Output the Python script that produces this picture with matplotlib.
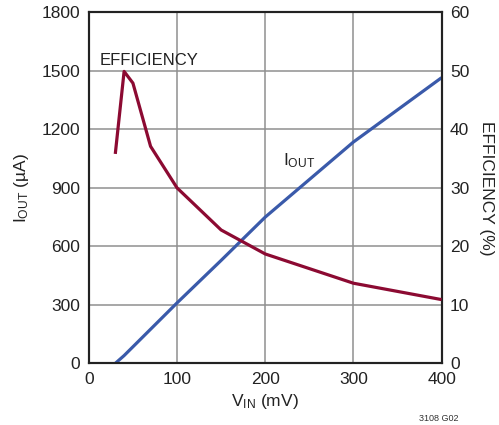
import matplotlib
matplotlib.use("Agg")
import matplotlib.pyplot as plt

plt.rcParams['font.family'] = ['Liberation Sans Narrow', 'Liberation Sans', 'DejaVu Sans']

# data
vin_iout = [30, 40, 100, 150, 200, 300, 400]
iout = [0, 40, 310, 528, 750, 1135, 1465]

vin_eff = [30, 40, 50, 70, 100, 150, 200, 300, 400]
efficiency = [35.8, 49.9, 47.9, 37.1, 30.0, 22.8, 18.7, 13.7, 10.9]

red = '#8c0a32'
blue = '#3a5aaa'

fig = plt.figure(figsize=(4.99, 4.25), dpi=100)
ax = fig.add_axes([0.178, 0.145, 0.707, 0.826])
ax2 = ax.twinx()

ax.plot(vin_iout, iout, color=blue, lw=2.3, solid_capstyle='butt', zorder=3)
ax2.plot(vin_eff, efficiency, color=red, lw=2.3, solid_capstyle='butt', zorder=3)

ax.set_xlim(0, 400)
ax.set_ylim(0, 1800)
ax2.set_ylim(0, 60)
ax.set_xticks(range(0, 401, 100))
ax.set_yticks(range(0, 1801, 300))
ax2.set_yticks(range(0, 61, 10))

ax.grid(True, color='#909090', lw=1.1)
ax.set_axisbelow(True)
ax.tick_params(length=0, labelsize=12.5, pad=6, colors='#222222')
ax2.tick_params(length=0, labelsize=12.5, pad=6, colors='#222222')
for a in (ax, ax2):
    for s in a.spines.values():
        s.set_color('#222222')
        s.set_linewidth(1.5)

ax.set_xlabel(r'$\mathregular{V_{IN}}$ (mV)', fontsize=12.5, color='#222222', labelpad=4)
ax.set_ylabel(r'$\mathregular{I_{OUT}}$ (µA)', fontsize=12.5, color='#222222', labelpad=8)
ax2.set_ylabel('EFFICIENCY (%)', fontsize=12.5, color='#222222', rotation=270, labelpad=18)

ax.text(12, 1555, 'EFFICIENCY', fontsize=12, color='#222222', va='center', ha='left')
ax.text(220, 1040, r'$\mathregular{I_{OUT}}$', fontsize=12.5, color='#222222', va='center', ha='left')

fig.text(0.918, 0.016, '3108 G02', fontsize=6.5, color='#333333', ha='right', va='center')

fig.savefig('out.png', dpi=100)
